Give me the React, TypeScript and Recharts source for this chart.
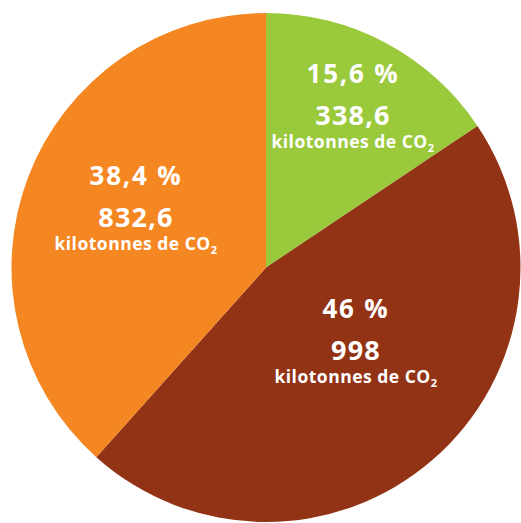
import { Cell, Pie, PieChart } from "recharts";

const sectors = ["Secteur A", "Secteur B", "Secteur C"];
const kilotonnes = [338.6, 998, 832.6];
const percents = ["15,6 %", "46 %", "38,4 %"];
const valueLabels = ["338,6", "998", "832,6"];
const colors = ["#9aca3c", "#923316", "#f58723"];

// baseline of the first label line, relative to the pie centre
const labelShift = [
  { dx: 87, dy: -184.5 },
  { dx: 90, dy: 50.5 },
  { dx: -130, dy: -82.5 },
];

const data = sectors.map((name, i) => ({ name, value: kilotonnes[i] }));

const font = "'Open Sans', 'DejaVu Sans', sans-serif";

function renderLabel(props: any) {
  const { cx, cy, index } = props;
  const s = labelShift[index];
  const x = cx + s.dx;
  const y = cy + s.dy;
  return (
    <g key={index} fontFamily={font} fontWeight={700} fill="#fff" textAnchor="middle">
      <text x={x} y={y} fontSize={26} letterSpacing={1.8}>
        {percents[index]}
      </text>
      <text x={x} y={y + 42} fontSize={27} letterSpacing={1.2}>
        {valueLabels[index]}
      </text>
      <text x={x} y={y + 64.5} fontSize={17.5} letterSpacing={0.5}>
        kilotonnes de CO
        <tspan fontSize={11} dy={4}>
          2
        </tspan>
      </text>
    </g>
  );
}

export default function App() {
  return (
    <div style={{ position: "fixed", left: 0, top: 0, width: 521, height: 523, background: "#fff" }}>
      <PieChart width={521} height={523} margin={{ top: 0, right: 0, bottom: 0, left: 0 }}>
        <Pie
          data={data}
          dataKey="value"
          nameKey="name"
          cx={266}
          cy={267.5}
          outerRadius={254.5}
          startAngle={90}
          endAngle={-270}
          stroke="none"
          label={renderLabel}
          labelLine={false}
          isAnimationActive={false}
        >
          {data.map((d, i) => (
            <Cell key={d.name} fill={colors[i]} />
          ))}
        </Pie>
      </PieChart>
    </div>
  );
}
